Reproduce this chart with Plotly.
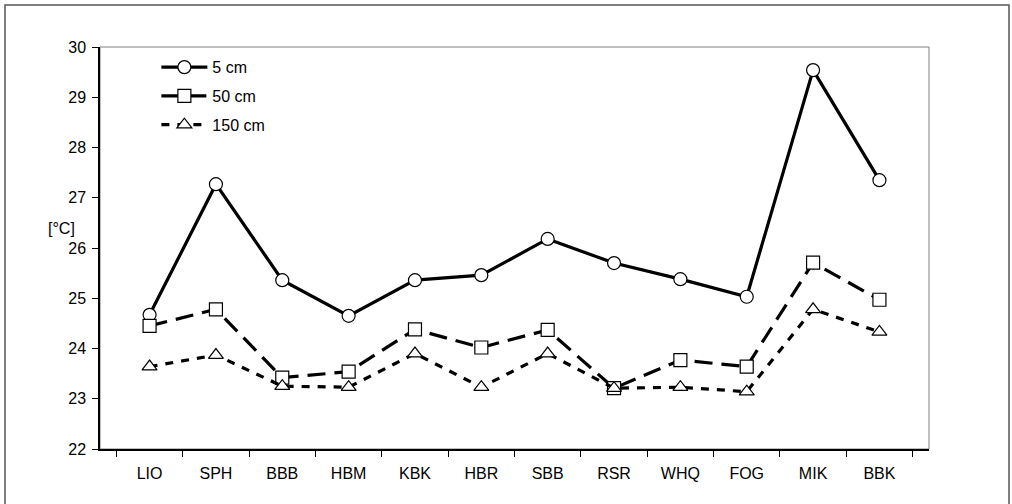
import plotly.graph_objects as go

# Measurement sites along the transect
sites = ["LIO", "SPH", "BBB", "HBM", "KBK", "HBR", "SBB", "RSR", "WHQ", "FOG", "MIK", "BBK"]

# Mean soil temperature [°C] at three depths
temp_5cm = [24.67, 27.27, 25.36, 24.65, 25.36, 25.46, 26.18, 25.70, 25.38, 25.03, 29.54, 27.35]
temp_50cm = [24.45, 24.78, 23.42, 23.54, 24.38, 24.02, 24.37, 23.21, 23.77, 23.64, 25.71, 24.97]
temp_150cm = [23.64, 23.87, 23.25, 23.23, 23.90, 23.23, 23.90, 23.21, 23.23, 23.14, 24.78, 24.33]

FONT = "Liberation Sans, Arial, sans-serif"
FS = 16

series = [
    ("5 cm", temp_5cm, "solid", "circle"),
    ("50 cm", temp_50cm, "18px,9px", "square"),
    ("150 cm", temp_150cm, "8px,8px", "triangle-up"),
]

fig = go.Figure()
for i, (name, vals, dash, symbol) in enumerate(series):
    fig.add_trace(go.Scatter(
        x=sites, y=vals, name=name, mode="lines+markers",
        legendgroup=f"g{i}",
        line=dict(color="black", width=3.2, dash=dash),
        marker=dict(symbol=symbol, size=13, color="white",
                    line=dict(color="black", width=1.2)),
    ))

fig.update_layout(
    width=1012, height=504,
    margin=dict(l=100, r=83, t=47, b=55),
    paper_bgcolor="white", plot_bgcolor="white",
    font=dict(family=FONT, size=FS, color="black"),
    showlegend=True,
    legend=dict(
        x=0.068, y=0.992, xanchor="left", yanchor="top",
        bgcolor="rgba(0,0,0,0)", borderwidth=0,
        font=dict(family=FONT, size=FS, color="black"),
        tracegroupgap=5, itemwidth=46,
    ),
    xaxis=dict(
        type="category", tickson="boundaries",
        ticks="outside", ticklen=6, tickcolor="black", tickwidth=1,
        showline=True, linecolor="black", linewidth=1.5,
        showgrid=False, zeroline=False,
        ticklabelstandoff=9,
        tickfont=dict(family=FONT, size=FS, color="black"),
    ),
    yaxis=dict(
        range=[22, 30], dtick=1,
        ticks="outside", ticklen=6, tickcolor="black", tickwidth=1,
        showline=True, linecolor="black", linewidth=1.5,
        showgrid=False, zeroline=False,
        ticklabelstandoff=3,
        tickfont=dict(family=FONT, size=FS, color="black"),
    ),
    shapes=[
        # plot-area frame (top and right edges in grey)
        dict(type="rect", xref="paper", yref="paper", x0=0, x1=1, y0=0, y1=1,
             line=dict(color="#808080", width=1), layer="below"),
        # outer chart border
        dict(type="rect", xref="paper", yref="paper",
             x0=(5 - 100) / 829, x1=(1009 - 100) / 829,
             y0=(449 - 520) / 402, y1=(449 - 5) / 402,
             line=dict(color="#555555", width=1.5), layer="below"),
    ],
    annotations=[
        dict(text="[°C]", xref="paper", yref="paper",
             x=(61 - 100) / 829, y=(449 - 228) / 402,
             xanchor="center", yanchor="middle", showarrow=False,
             font=dict(family=FONT, size=FS, color="black")),
    ],
)

fig.write_html("out.html")
